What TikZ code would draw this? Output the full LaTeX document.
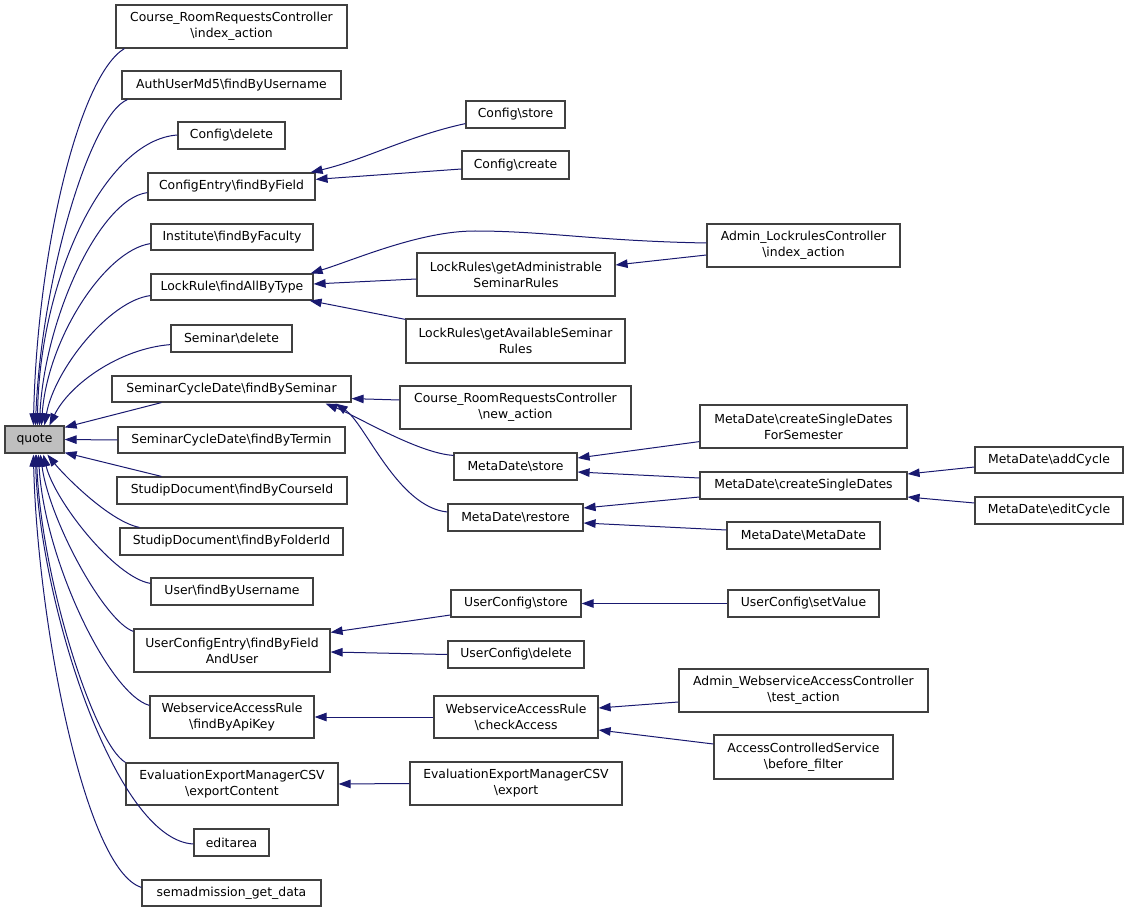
\documentclass[tikz,border=0pt]{standalone}
\usepackage{fontspec}
\setmainfont{DejaVu Sans}
\usetikzlibrary{arrows.meta,calc}
\definecolor{edgeblue}{HTML}{191970}
\definecolor{boxline}{HTML}{404040}
\definecolor{quotefill}{HTML}{BFBFBF}
\newcommand{\bs}{\textbackslash}
\begin{document}
\begin{tikzpicture}[x=1pt,y=-1pt,
  box/.style={draw=boxline,line width=1.2pt,fill=white,inner sep=0pt,align=center,
    font=\fontsize{12.4}{16}\selectfont},
  sz/.style 2 args={minimum width=#1pt,minimum height=#2pt},
  ln/.style={draw=edgeblue,line width=1pt},
  e/.style={ln,-{Triangle[length=12pt,width=8.5pt]},color=edgeblue}]
\useasboundingbox (0,0) rectangle (1128,912);
% column 1
\node[box,sz={59}{27},fill=quotefill] (quote) at (34.5,439.5) {quote};
% column 2
\node[box,sz={231}{43}] (cidx) at (231.5,26.5) {Course\_RoomRequestsController\\\bs index\_action};
\node[box,sz={219}{28}] (auth) at (231.5,85) {AuthUserMd5\bs findByUsername};
\node[box,sz={107}{27}] (cdel) at (231.5,135.5) {Config\bs delete};
\node[box,sz={167}{27}] (cef) at (231.5,186.5) {ConfigEntry\bs findByField};
\node[box,sz={162}{26}] (inst) at (232,237) {Institute\bs findByFaculty};
\node[box,sz={162}{26}] (lock) at (232,287) {LockRule\bs findAllByType};
\node[box,sz={121}{27}] (semdel) at (231.5,338.5) {Seminar\bs delete};
\node[box,sz={239}{26}] (scds) at (231.5,389) {SeminarCycleDate\bs findBySeminar};
\node[box,sz={227}{26}] (scdt) at (231.5,440) {SeminarCycleDate\bs findByTermin};
\node[box,sz={230}{27}] (sdc) at (232,490.5) {StudipDocument\bs findByCourseId};
\node[box,sz={223}{27}] (sdf) at (231.5,541.5) {StudipDocument\bs findByFolderId};
\node[box,sz={162}{27}] (ufu) at (232,591.5) {User\bs findByUsername};
\node[box,sz={196}{43}] (ucef) at (232,650.5) {UserConfigEntry\bs findByField\\AndUser};
\node[box,sz={164}{42}] (wark) at (232,717) {WebserviceAccessRule\\\bs findByApiKey};
\node[box,sz={212}{42}] (eemc) at (232,784) {EvaluationExportManagerCSV\\\bs exportContent};
\node[box,sz={75}{27}] (edit) at (231.5,842.5) {editarea};
\node[box,sz={179}{26}] (sem) at (231.5,893) {semadmission\_get\_data};
% column 3
\node[box,sz={99}{27}] (cstore) at (515.5,114.5) {Config\bs store};
\node[box,sz={107}{28}] (ccreate) at (515.5,165) {Config\bs create};
\node[box,sz={198}{43}] (lra) at (516,274.5) {LockRules\bs getAdministrable\\SeminarRules};
\node[box,sz={219}{44}] (lrav) at (515.5,341) {LockRules\bs getAvailableSeminar\\Rules};
\node[box,sz={231}{43}] (crnew) at (515.5,407.5) {Course\_RoomRequestsController\\\bs new\_action};
\node[box,sz={123}{27}] (mstore) at (515.5,466.5) {MetaDate\bs store};
\node[box,sz={135}{27}] (mrestore) at (515.5,517.5) {MetaDate\bs restore};
\node[box,sz={130}{27}] (ucstore) at (516,603.5) {UserConfig\bs store};
\node[box,sz={136}{27}] (ucdel) at (516,654.5) {UserConfig\bs delete};
\node[box,sz={164}{42}] (wca) at (516,717) {WebserviceAccessRule\\\bs checkAccess};
\node[box,sz={212}{43}] (eem) at (516,783.5) {EvaluationExportManagerCSV\\\bs export};
% column 4
\node[box,sz={193}{43}] (alc) at (803.5,245.5) {Admin\_LockrulesController\\\bs index\_action};
\node[box,sz={207}{43}] (mcsfs) at (803.5,426.5) {MetaDate\bs createSingleDates\\ForSemester};
\node[box,sz={207}{27}] (mcsd) at (803.5,485.5) {MetaDate\bs createSingleDates};
\node[box,sz={153}{27}] (mmd) at (803.5,535.5) {MetaDate\bs MetaDate};
\node[box,sz={151}{27}] (ucsv) at (803.5,603.5) {UserConfig\bs setValue};
\node[box,sz={249}{43}] (awac) at (803.5,690.5) {Admin\_WebserviceAccessController\\\bs test\_action};
\node[box,sz={179}{44}] (acs) at (803.5,757) {AccessControlledService\\\bs before\_filter};
% column 5
\node[box,sz={148}{26}] (madd) at (1049,460) {MetaDate\bs addCycle};
\node[box,sz={148}{27}] (medit) at (1049,510.5) {MetaDate\bs editCycle};
\coordinate (lockpeak) at (475,231);

% edges into quote (top)
\draw[e] ($(cidx.south west)+(9,0)$) .. controls +(-45,27) and +(4,-176) .. ($(quote.north west)+(29,0)$);
\draw[e] ($(auth.south west)+(6,0)$) .. controls +(-38,16) and +(6,-146) .. ($(quote.north west)+(31,0)$);
\draw[e] ($(cdel.west)+(0,-0.5)$) .. controls +(-73,5) and +(2,-146) .. ($(quote.north west)+(33,0)$);
\draw[e] ($(cef.south west)+(0,-8)$) .. controls +(-48,6) and +(5,-106) .. ($(quote.north west)+(35,0)$);
\draw[e] ($(inst.south west)+(0,-7)$) .. controls +(-46,7) and +(6,-86) .. ($(quote.north west)+(37,0)$);
\draw[e] ($(lock.south west)+(0,-5)$) .. controls +(-41,5) and +(10,-56) .. ($(quote.north west)+(40,0)$);
\draw[e] ($(semdel.south west)+(0,-8)$) .. controls +(-51,4) and +(20,-41) .. ($(quote.north west)+(45,0)$);
% right side
\draw[e] ($(scds.south west)+(50,0)$) -- ($(quote.north east)+(0,2)$);
\draw[e] (scdt.west) -- (quote.east);
\draw[e] ($(sdc.north west)+(45,0)$) -- ($(quote.south east)+(0,-1)$);
% bottom
\draw[e] ($(sdf.north west)+(20,0)$) .. controls +(-30,-6) and +(17,21) .. ($(quote.south west)+(43,1)$);
\draw[e] ($(ufu.north west)+(0,6)$) .. controls +(-36,-6) and +(11,46) .. ($(quote.south west)+(39,1)$);
\draw[e] ($(ucef.north west)+(0,3)$) .. controls +(-29,-10) and +(9,66) .. ($(quote.south west)+(36,1)$);
\draw[e] ($(wark.north west)+(0,10)$) .. controls +(-40,-11) and +(6,106) .. ($(quote.south west)+(34,1)$);
\draw[e] (eemc.north west) .. controls +(-31,-18) and +(5,126) .. ($(quote.south west)+(32,1)$);
\draw[e] ($(edit.west)+(0,1.5)$) .. controls +(-79,-4) and +(4,146) .. ($(quote.south west)+(31,1)$);
\draw[e] ($(sem.north west)+(0,8)$) .. controls +(-57,-18) and +(4,166) .. ($(quote.south west)+(29,1)$);

% ConfigEntry
\draw[e] ($(cstore.south west)+(0,-5)$) .. controls +(-56,12) and +(55,-13) .. ($(cef.north east)+(-5,0)$);
\draw[e] ($(ccreate.west)+(0,4)$) -- ($(cef.north east)+(0,7)$);
% LockRule
\draw[ln] ($(alc.west)+(0,-2.5)$) .. controls +(-110,-2) and +(70,0) .. (lockpeak);
\draw[e] (lockpeak) .. controls +(-55,0) and +(45,-14) .. ($(lock.north east)+(-3,0)$);
\draw[e] ($(lra.west)+(0,4.5)$) -- ($(lock.east)+(0,-3)$);
\draw[e] ($(lrav.north west)+(0,1)$) -- ($(lock.south east)+(-4,0)$);
\draw[e] ($(alc.west)+(0,9.5)$) -- ($(lra.east)+(0,-9.5)$);
% SeminarCycleDate findBySeminar
\draw[e] ($(crnew.west)+(0,-7.5)$) -- ($(scds.south east)+(0,-4)$);
\draw[e] ($(mstore.north west)+(0,3)$) .. controls +(-35,-2) and +(30,12) .. ($(scds.south east)+(-26,1)$);
\draw[e] ($(mrestore.west)+(0,-5.5)$) .. controls +(-50,-5) and +(30,20) .. ($(scds.south east)+(-16,1)$);
% MetaDate
\draw[e] ($(mcsfs.south west)+(0,-7)$) -- ($(mstore.east)+(0,-8.5)$);
\draw[e] ($(mcsd.west)+(0,-7.5)$) -- ($(mstore.east)+(0,5.5)$);
\draw[e] ($(mcsd.west)+(0,11.5)$) -- ($(mrestore.east)+(0,-9.5)$);
\draw[e] ($(mmd.west)+(0,-5.5)$) -- ($(mrestore.east)+(0,5.5)$);
\draw[e] ($(madd.west)+(0,7)$) -- ($(mcsd.east)+(0,-11.5)$);
\draw[e] ($(medit.west)+(0,-7.5)$) -- ($(mcsd.east)+(0,11.5)$);
% UserConfig
\draw[e] ($(ucstore.west)+(0,11.5)$) -- ($(ucef.north east)+(0,4)$);
\draw[e] (ucdel.west) -- ($(ucef.east)+(0,1.5)$);
\draw[e] (ucsv.west) -- (ucstore.east);
% Webservice
\draw[e] (wca.west) -- (wark.east);
\draw[e] ($(awac.west)+(0,11.5)$) -- ($(wca.east)+(0,-9)$);
\draw[e] ($(acs.west)+(0,-13)$) -- ($(wca.east)+(0,13)$);
% Evaluation
\draw[e] (eem.west) -- (eemc.east);
\end{tikzpicture}
\end{document}
